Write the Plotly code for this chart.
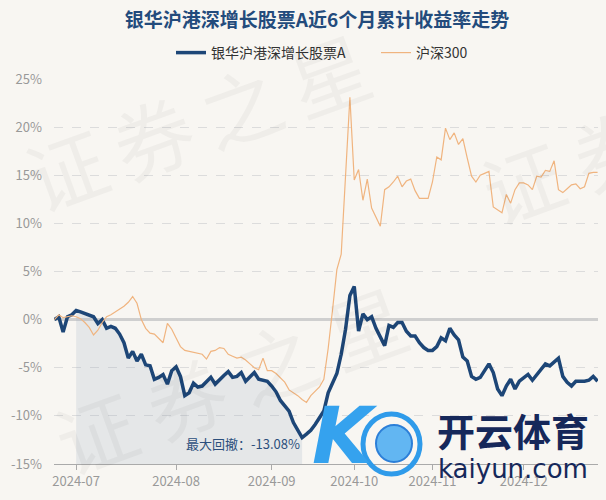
import pandas as pd
import plotly.graph_objects as go

# ---------------- data ----------------
holidays = ["2024-09-16", "2024-09-17", "2024-10-01", "2024-10-02",
            "2024-10-03", "2024-10-04", "2024-10-07"]
dates = [d.strftime("%Y-%m-%d") for d in pd.bdate_range("2024-06-24", "2024-12-25")
         if d.strftime("%Y-%m-%d") not in holidays]

fund = [0.0, 0.3, -1.3, 0.3, 0.5, 0.95, 0.8, 0.65, 0.5, 0.3,
        -0.4, 0.0, -0.9, -0.7, -0.9, -1.5, -2.4, -4.0, -3.3, -4.3,
        -3.6, -4.7, -4.8, -6.2, -6.0, -5.7, -6.7, -5.3, -4.9, -5.9,
        -7.9, -7.6, -6.6, -7.0, -6.9, -6.5, -6.0, -6.7, -6.2, -5.8,
        -5.4, -6.0, -5.9, -5.5, -6.4, -5.9, -5.5, -6.2, -6.3, -6.4,
        -6.9, -7.5, -8.4, -8.9, -9.5, -10.7, -11.5, -12.25, -11.9, -11.5,
        -10.9, -10.2, -9.5, -7.6, -6.6, -5.6, -3.6, -1.0, 2.5, 3.45,
        -1.2, 0.6, 0.0, 0.3, -0.9, -1.9, -2.7, -0.6, -0.8, -0.3,
        -0.3, -1.2, -1.7, -1.7, -2.4, -2.9, -3.2, -3.2, -2.8, -1.9,
        -2.2, -0.9, -1.6, -2.1, -3.9, -4.3, -5.9, -6.2, -6.0, -5.3,
        -4.6, -5.5, -7.2, -7.9, -6.9, -6.2, -7.2, -6.4, -6.1, -5.7,
        -6.3, -5.7, -5.2, -4.6, -4.8, -4.4, -4.0, -5.9, -6.5, -6.9,
        -6.4, -6.4, -6.4, -6.3, -5.9, -6.4]

hs300 = [0.0, 0.5, 0.2, 0.3, 0.4, 0.3, 0.1, -0.3, -0.8, -1.6,
         -1.1, -0.3, 0.3, 0.5, 0.8, 1.1, 1.4, 1.8, 2.4, 1.7,
         0.0, -0.9, -1.4, -1.5, -1.9, -2.4, -0.4, -1.0, -1.9, -2.8,
         -3.2, -3.3, -3.4, -3.5, -3.6, -4.1, -3.3, -3.2, -2.9, -3.0,
         -3.6, -3.8, -4.0, -3.9, -4.2, -4.6, -5.0, -5.2, -4.0, -5.3,
         -5.3, -5.6, -6.0, -6.5, -7.3, -7.6, -7.9, -8.3, -8.6, -7.9,
         -7.4, -7.0, -6.2, -3.0, 1.0, 5.2, 6.8, 14.9, 23.1, 14.5,
         15.6, 12.4, 14.6, 11.6, 10.7, 9.7, 13.5, 13.8, 14.3, 14.9,
         13.8, 14.4, 14.6, 13.4, 12.6, 12.6, 12.6, 14.3, 16.9, 16.6,
         19.9, 18.7, 19.4, 18.2, 18.8, 16.8, 14.9, 14.3, 15.0, 15.2,
         15.4, 11.7, 11.4, 11.1, 13.0, 12.1, 13.5, 14.2, 14.2, 14.0,
         13.5, 14.9, 14.8, 15.5, 15.4, 16.5, 13.5, 13.2, 13.6, 14.0,
         14.1, 13.6, 13.8, 15.2, 15.3, 15.3]

tick_dates = ["2024-07-01", "2024-08-01", "2024-09-02", "2024-10-08", "2024-11-01", "2024-12-02"]
tick_labels = ["2024-07", "2024-08", "2024-09", "2024-10", "2024-11", "2024-12"]
y_ticks = [-15, -10, -5, 0, 5, 10, 15, 20, 25]
y_labels = ["-15%", "-10%", "-5%", "0%", "5%", "10%", "15%", "20%", "25%"]

fund_name = "银华沪港深增长股票A"
bench_name = "沪深300"
title = "银华沪港深增长股票A近6个月累计收益率走势"
dd_label = "最大回撤：-13.08%"
watermark = "证券之星"
logo_cn = "开云体育"
logo_en = "kaiyun.com"

# drawdown window: peak -> trough
peak_i = max(range(0, 58), key=lambda i: fund[i])
trough_i = min(range(peak_i, len(fund)), key=lambda i: fund[i])

FONT = "Noto Sans CJK SC"
NAVY = "#1d4677"
ORANGE = "#f0b47f"
BG = "#f8f6f2"

W, H = 606, 500
L, R, T, B = 54, 8, 79, 36
PW, PH = W - L - R, H - T - B


def px(xp):
    return (xp - L) / PW


def py(yp):
    return (H - B - yp) / PH


def note(text, x, y, size, color, family=FONT, angle=0):
    fig.add_annotation(text=text, xref="paper", yref="paper", x=px(x), y=py(y),
                       xanchor="center", yanchor="middle", showarrow=False,
                       textangle=angle, font=dict(family=family, size=size, color=color))


fig = go.Figure()

# shaded drawdown area
xs = dates[peak_i:trough_i + 1]
ys = fund[peak_i:trough_i + 1]
fig.add_trace(go.Scatter(
    x=xs + [dates[trough_i], dates[peak_i]],
    y=ys + [-15, -15],
    fill="toself", fillcolor="rgba(165,178,196,0.22)",
    line=dict(width=0), mode="lines", hoverinfo="skip", showlegend=False))

fig.add_trace(go.Scatter(x=dates, y=fund, mode="lines", name=fund_name,
                         line=dict(color=NAVY, width=3.5)))
fig.add_trace(go.Scatter(x=dates, y=hs300, mode="lines", name=bench_name,
                         line=dict(color=ORANGE, width=1.2)))

# faint diagonal watermark characters
wm_rows = [[(65, 167), (152, 135), (240, 104), (328, 72)],
           [(95, 430), (185, 395), (275, 360), (365, 325)],
           [(522, 180), (612, 147)]]
for row in wm_rows:
    for ch, (wx, wy) in zip(watermark, row):
        note(ch, wx, wy, 80, "rgba(0,0,0,0.035)", angle=-20)

fig.add_annotation(text=dd_label, x=dates[trough_i], y=-12.9, xanchor="right",
                   yanchor="middle", showarrow=False,
                   font=dict(family=FONT, size=13, color="#2c4f7c"))

# logo overlay
fig.add_shape(type="circle", xref="paper", yref="paper",
              x0=px(363), x1=px(420), y0=py(414), y1=py(474),
              line=dict(color="#2f9bea", width=5), fillcolor="rgba(0,0,0,0)")
fig.add_shape(type="circle", xref="paper", yref="paper",
              x0=px(376), x1=px(412), y0=py(425), y1=py(462),
              line=dict(color="#2c7fd8", width=2), fillcolor="#62b6f2")
note("<b><i>K</i></b>", 345, 436, 78, "#35a2ee", family="DejaVu Sans")
note("<b>" + logo_cn + "</b>", 513, 429, 38, "#16285a")
note(logo_en, 513, 469, 26, "#16285a", family="DejaVu Sans")

fig.update_layout(
    width=W, height=H,
    paper_bgcolor=BG, plot_bgcolor=BG,
    margin=dict(l=L, r=R, t=T, b=B, autoexpand=False),
    title=dict(text="<b>" + title + "</b>", xref="paper", x=px(317), xanchor="center",
               y=1 - 20 / H, yanchor="middle",
               font=dict(family=FONT, size=19, color="#234b7c")),
    legend=dict(orientation="h", x=px(171), xanchor="left", y=py(53), yanchor="middle",
                font=dict(family=FONT, size=14, color="#333333"),
                bgcolor="rgba(0,0,0,0)", itemwidth=30,
                entrywidth=160, entrywidthmode="pixels"),
    showlegend=True,
    xaxis=dict(type="category", categoryorder="array", categoryarray=dates,
               range=[-0.1, len(dates) - 0.9], automargin=False,
               tickmode="array", tickvals=tick_dates, ticktext=tick_labels,
               showgrid=False, showline=True, linecolor="#aaaaaa", linewidth=1,
               ticks="outside", ticklen=5, tickcolor="#aaaaaa",
               tickfont=dict(family=FONT, size=13, color="#999999")),
    yaxis=dict(range=[-15, 25], tickmode="array", tickvals=y_ticks, ticktext=y_labels,
               automargin=False,
               showgrid=True, gridcolor="#dcdcdc", griddash="dash", gridwidth=1,
               zeroline=True, zerolinecolor="#cfcfcf", zerolinewidth=2.5,
               showline=False, ticks="", ticklabelstandoff=11,
               tickfont=dict(family=FONT, size=13, color="#999999")),
)

fig.write_html("out.html", config={"displayModeBar": False},
               post_script="document.body.style.margin='0';document.body.style.overflow='hidden';")
